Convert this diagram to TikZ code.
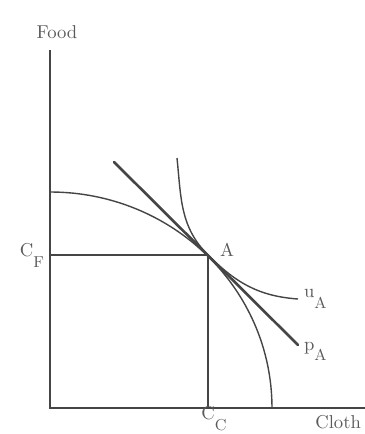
\documentclass[tikz,border=0pt]{standalone}
\usepackage{xcolor}
\usepackage{tikz}
\usetikzlibrary{arrows.meta,positioning,calc}

\definecolor{inkline}{HTML}{454545}
\definecolor{inktext}{HTML}{5A5A5A}
\newcommand{\lowsub}[2]{#1\raisebox{-1.3ex}{\small #2}}

\begin{document}
\begin{tikzpicture}[
    x=0.02cm, y=0.02cm,
    font=\fontsize{10.6}{12}\selectfont,
    axis/.style={draw=inkline,line width=0.8pt},
    curve/.style={draw=inkline,line width=0.8pt},
    budget/.style={draw=inkline,line width=1.5pt},
    lbl/.style={text=inktext,inner sep=1pt}
]
\useasboundingbox (0,0) rectangle (365,434);
% axes
\coordinate (O) at (50,26);
\coordinate (ytop) at (50,384);
\coordinate (xend) at (365,26);
\draw[axis] (ytop) -- (O) -- (xend);
\node[lbl] (food) at (57,402) {Food};
\node[lbl,anchor=north east] (cloth) at (363,21) {Cloth};
% production frontier
\coordinate (ppfTop) at (50,242);
\coordinate (ppfEnd) at (272,26);
\draw[curve] (ppfTop) arc[start angle=90,end angle=0,x radius=222,y radius=216];
% point A and consumption levels
\coordinate (A) at (208,179);
\coordinate (cf) at (50,179);
\coordinate (cc) at (208,26);
\draw[curve] (cf) -- (A) -- (cc);
\node[lbl,anchor=west] (alabel) at (218,184) {A};
\node[lbl,anchor=base east] (cflabel) at (46,177) {\lowsub{C}{F}};
\node[lbl,anchor=base] (cclabel) at (214,14) {\lowsub{C}{C}};
% price line
\coordinate (pTop) at (114,272);
\coordinate (pEnd) at (298,89);
\draw[budget,line cap=round] (pTop) -- (pEnd);
\node[lbl,anchor=base west] (plabel) at (302,84) {\lowsub{p}{A}};
% indifference curve
\coordinate (uTop) at (177,276);
\coordinate (uEnd) at (298,135);
\draw[curve] (uTop) to[out=-84,in=135] (A) to[out=-45,in=176] (uEnd);
\node[lbl,anchor=base west] (ulabel) at (302,136) {\lowsub{u}{A}};
\end{tikzpicture}
\end{document}
